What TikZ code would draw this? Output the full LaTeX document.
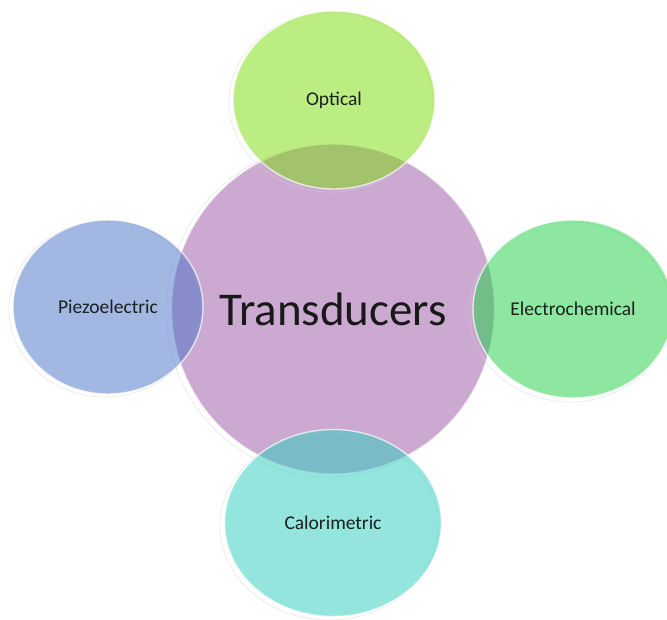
\documentclass[tikz,border=0pt]{standalone}
\usepackage{fontspec}
\setmainfont{Carlito}
\usetikzlibrary{shapes.geometric}
\definecolor{hubfill}{RGB}{203,169,209}
\definecolor{opticalfill}{RGB}{123,221,9}
\definecolor{piezofill}{RGB}{71,113,199}
\definecolor{electrofill}{RGB}{29,209,69}
\definecolor{calorfill}{RGB}{41,205,189}
\definecolor{labeltext}{RGB}{28,32,30}
\begin{document}
\begin{tikzpicture}[x=1pt,y=-1pt,
  bubble/.style={ellipse, inner sep=0pt, fill opacity=0.5, text opacity=1,
    draw=white, draw opacity=0.7, line width=1.4pt, text=labeltext,
    font=\fontsize{19.5}{23}\selectfont},
  hubstyle/.style={ellipse, inner sep=0pt, fill=hubfill, draw=white,
    draw opacity=0.7, line width=1.4pt, text=black!90,
    font=\fontsize{47}{54}\selectfont},
  ghost/.style={draw=gray!35, line width=0.6pt, draw opacity=0.5}]
\useasboundingbox (0,0) rectangle (667,619);
\fill[white] (0,0) rectangle (667,619);

% central hub
\draw[ghost] (329,311) ellipse [x radius=163, y radius=166];
\node[hubstyle, minimum width=323pt, minimum height=330pt] (hub) at (333,309) {Transducers};

% surrounding categories
\draw[ghost] (331,102) ellipse [x radius=102, y radius=90];
\node[bubble, fill=opticalfill, minimum width=202pt, minimum height=178pt] (optical) at (334,100) {Optical};

\draw[ghost] (105,309) ellipse [x radius=96, y radius=88];
\node[bubble, fill=piezofill, minimum width=190pt, minimum height=174pt] (piezo) at (108,307) {Piezoelectric};

\draw[ghost] (570,312) ellipse [x radius=101, y radius=90];
\node[bubble, fill=electrofill, minimum width=200pt, minimum height=178pt] (electro) at (573,309) {Electrochemical};

\draw[ghost] (329,526) ellipse [x radius=109, y radius=94];
\node[bubble, fill=calorfill, minimum width=217pt, minimum height=187pt] (calor) at (333,523) {Calorimetric};
\end{tikzpicture}
\end{document}
